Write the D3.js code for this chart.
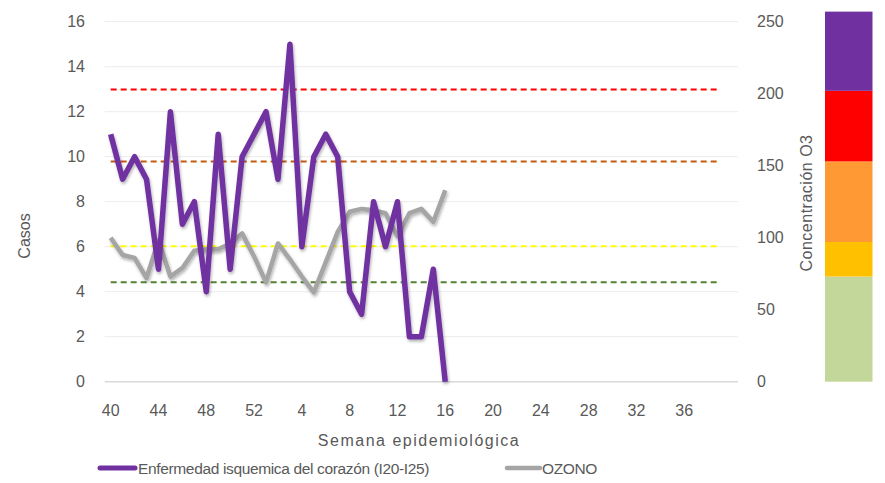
<!DOCTYPE html>
<html lang="es">
<head>
    <meta charset="UTF-8">
    <script src="https://d3js.org/d3.v7.min.js"></script>
    <title>Casos y ozono</title>
    <style>
        body { margin: 0; background: #fff; }
        svg text { font-family: "Liberation Sans", Arial, sans-serif; fill: #595959; }
    </style>
</head>
<body>
    <svg id="chart" width="885" height="483"></svg>

    <script>
        // semanas epidemiologicas (categorias del eje X)
        const semanas = [40, 41, 42, 43, 44, 45, 46, 47, 48, 49, 50, 51, 52,
            1, 2, 3, 4, 5, 6, 7, 8, 9, 10, 11, 12, 13, 14, 15, 16, 17, 18, 19, 20,
            21, 22, 23, 24, 25, 26, 27, 28, 29, 30, 31, 32, 33, 34, 35, 36, 37, 38, 39];

        // Enfermedad isquemica del corazon (I20-I25), semana 40 a 16
        const casos = [11, 9, 10, 9, 5, 12, 7, 8, 4, 11, 5, 10, 11, 12, 9, 15, 6, 10, 11, 10,
            4, 3, 8, 6, 8, 2, 2, 5, 0];

        // concentracion de ozono, semana 40 a 16
        const ozono = [100, 88, 86, 72, 98, 73, 79, 91, 92, 92, 96, 103, 87, 69, 96, 85, 73, 62,
            83, 104, 118, 120, 119, 117, 101, 117, 120, 111, 133];

        // lineas de referencia (eje derecho)
        const umbrales = [203, 153, 94, 69];
        const umbralColores = ["#ff0000", "#c55a11", "#ffff00", "#548235"];

        // franjas de la barra de color (eje derecho)
        const franjas = [[0, 73], [73, 97], [97, 153], [153, 202], [202, 257]];
        const franjaColores = ["#c4d79b", "#ffc000", "#ff9933", "#ff0000", "#7030a0"];

        const yTicksLeft = [0, 2, 4, 6, 8, 10, 12, 14, 16];
        const yTicksRight = [0, 50, 100, 150, 200, 250];

        const svg = d3.select("#chart");
        const plotTop = 21.7, plotBottom = 381.7, plotLeft = 104.7, plotRight = 738;

        // one empty slot after the last week, as in the original axis
        const x = d3.scaleBand()
            .domain(d3.range(semanas.length + 1))
            .range([plotLeft, plotRight])
            .padding(0);
        const xc = i => x(i) + x.bandwidth() / 2;

        const yL = d3.scaleLinear().domain([0, 16]).range([plotBottom, plotTop]);
        const yR = d3.scaleLinear().domain([0, 250]).range([plotBottom, plotTop]);

        const defs = svg.append("defs");
        const f = defs.append("filter").attr("id", "sombra")
            .attr("x", "-5%").attr("y", "-5%").attr("width", "110%").attr("height", "115%");
        f.append("feDropShadow").attr("dx", 1).attr("dy", 2)
            .attr("stdDeviation", 1.6).attr("flood-color", "#000").attr("flood-opacity", 0.3);

        // gridlines
        svg.append("g")
            .selectAll("line")
            .data(yTicksLeft)
            .join("line")
            .attr("x1", plotLeft).attr("x2", plotRight)
            .attr("y1", d => yL(d)).attr("y2", d => yL(d))
            .attr("stroke", d => d === 0 ? "#d9d9d9" : "#ececec")
            .attr("stroke-width", d => d === 0 ? 1.5 : 1);

        // left axis labels
        svg.append("g")
            .selectAll("text")
            .data(yTicksLeft)
            .join("text")
            .attr("x", 85).attr("y", d => yL(d))
            .attr("text-anchor", "end")
            .attr("dominant-baseline", "central")
            .style("font-size", "16px")
            .text(d => d);

        // right axis labels
        svg.append("g")
            .selectAll("text")
            .data(yTicksRight)
            .join("text")
            .attr("x", 757).attr("y", d => yR(d))
            .attr("dominant-baseline", "central")
            .style("font-size", "16px")
            .text(d => d);

        // x axis labels, cada 4 semanas
        svg.append("g")
            .selectAll("text")
            .data(semanas.map((s, i) => i).filter(i => i % 4 === 0))
            .join("text")
            .attr("x", i => xc(i)).attr("y", 410)
            .attr("text-anchor", "middle")
            .attr("dominant-baseline", "central")
            .style("font-size", "16px")
            .text(i => semanas[i]);

        // axis titles
        svg.append("text")
            .attr("transform", "translate(30,236) rotate(-90)")
            .attr("text-anchor", "middle")
            .style("font-size", "16px")
            .text("Casos");
        svg.append("text")
            .attr("transform", "translate(812,203) rotate(-90)")
            .attr("text-anchor", "middle")
            .style("font-size", "16px")
            .style("letter-spacing", "0.5px")
            .text("Concentración O3");
        svg.append("text")
            .attr("x", 419).attr("y", 446)
            .attr("text-anchor", "middle")
            .style("font-size", "16px")
            .style("letter-spacing", "1.5px")
            .text("Semana epidemiológica");

        // threshold dashed lines
        const linea = (yScale, v) => d3.line()
            .x((d, i) => xc(i))
            .y(() => yScale(v));
        svg.append("g")
            .selectAll("path")
            .data(umbrales)
            .join("path")
            .attr("d", v => linea(yR, v)(semanas))
            .attr("fill", "none")
            .attr("stroke", (v, i) => umbralColores[i])
            .attr("stroke-width", 2)
            .attr("stroke-dasharray", "6,4");

        // ozone series
        svg.append("path")
            .datum(ozono)
            .attr("d", d3.line().x((d, i) => xc(i)).y(d => yR(d)))
            .attr("fill", "none")
            .attr("stroke", "#a5a5a5")
            .attr("stroke-width", 4.5)
            .attr("stroke-linejoin", "round")
            .attr("filter", "url(#sombra)");

        // cases series
        svg.append("path")
            .datum(casos)
            .attr("d", d3.line().x((d, i) => xc(i)).y(d => yL(d)))
            .attr("fill", "none")
            .attr("stroke", "#7030a0")
            .attr("stroke-width", 5.5)
            .attr("stroke-linejoin", "round")
            .attr("filter", "url(#sombra)");

        // colour bar on the right
        svg.append("g")
            .selectAll("rect")
            .data(franjas)
            .join("rect")
            .attr("x", 825)
            .attr("width", 47.5)
            .attr("y", d => yR(d[1]))
            .attr("height", d => yR(d[0]) - yR(d[1]))
            .attr("fill", (d, i) => franjaColores[i]);

        // legend
        const legend = svg.append("g");
        legend.append("line")
            .attr("x1", 100).attr("x2", 135).attr("y1", 468).attr("y2", 468)
            .attr("stroke", "#7030a0").attr("stroke-width", 5).attr("stroke-linecap", "round");
        legend.append("text")
            .attr("x", 138).attr("y", 474)
            .style("font-size", "15.5px")
            .style("letter-spacing", "-0.35px")
            .text("Enfermedad isquemica del corazón (I20-I25)");
        legend.append("line")
            .attr("x1", 507).attr("x2", 540).attr("y1", 468).attr("y2", 468)
            .attr("stroke", "#a5a5a5").attr("stroke-width", 4.5).attr("stroke-linecap", "round");
        legend.append("text")
            .attr("x", 542).attr("y", 474)
            .style("font-size", "15.5px")
            .style("letter-spacing", "-0.35px")
            .text("OZONO");
    </script>
</body>
</html>
